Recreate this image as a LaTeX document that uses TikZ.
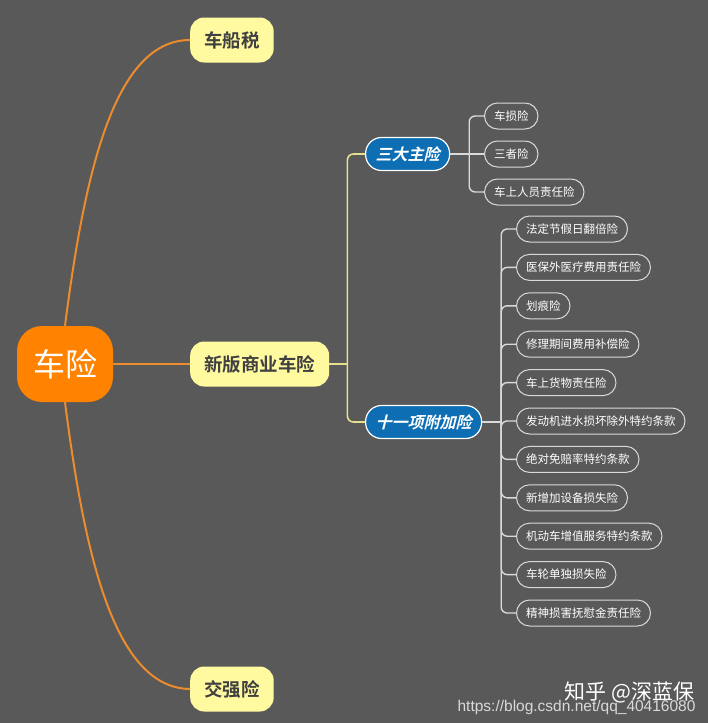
\documentclass[tikz,border=0pt]{standalone}
\usepackage{fontspec}
\setmainfont{Noto Sans CJK SC}[
  BoldFont={Noto Sans CJK SC Bold},
  ItalicFont={Noto Sans CJK SC},
  ItalicFeatures={FakeSlant=0.25},
  BoldItalicFont={Noto Sans CJK SC Bold},
  BoldItalicFeatures={FakeSlant=0.25}]
\newfontfamily\urlfont{Liberation Sans}
\usetikzlibrary{calc}
\definecolor{bggray}{RGB}{89,89,89}
\definecolor{rootorange}{RGB}{255,130,0}
\definecolor{lineorange}{RGB}{235,140,45}
\definecolor{topicyellow}{RGB}{255,250,160}
\definecolor{topictext}{RGB}{64,64,64}
\definecolor{subblue}{RGB}{14,110,180}
\definecolor{lineyellow}{RGB}{230,224,140}
\definecolor{leafline}{RGB}{217,217,217}

\begin{document}
\begin{tikzpicture}[x=1pt, y=-1pt,
    rootbox/.style={fill=rootorange, text=white, rounded corners=25pt,
      minimum width=96pt, minimum height=76pt, font=\fontsize{32}{32}\selectfont},
    topicbox/.style={fill=topicyellow, text=topictext, rounded corners=14pt,
      minimum height=45pt, inner xsep=14pt, anchor=west,
      font=\fontsize{18.5}{18.5}\selectfont\bfseries},
    subbox/.style={fill=subblue, draw=white, line width=1.2pt, text=white,
      rounded corners=16pt, minimum height=33pt, inner xsep=10pt, anchor=west,
      font=\fontsize{16}{16}\selectfont\bfseries\itshape},
    leafbox/.style={draw=leafline, line width=1pt, text=white, rounded corners=13pt,
      minimum height=26pt, inner xsep=9.5pt, anchor=west,
      font=\fontsize{11.5}{11.5}\selectfont},
    oline/.style={draw=lineorange, line width=2pt},
    yline/.style={draw=lineyellow, line width=1.6pt, rounded corners=6pt},
    lline/.style={draw=leafline, line width=1.4pt, rounded corners=6pt}]
    \fill[bggray] (0,0) rectangle (708,723);

    \node[rootbox] (root) at (65,364) {车险};
    \node[topicbox] (tax) at (190,40) {车船税};
    \node[topicbox] (biz) at (190,364) {新版商业车险};
    \node[topicbox] (jqx) at (190,689) {交强险};

    \draw[oline] (root.north) .. controls (85,170) and (115,40) .. (tax.west);
    \draw[oline] (root.east) -- (biz.west);
    \draw[oline] (root.south) .. controls (85,558) and (115,688) .. (jqx.west);

    \node[subbox] (main) at (365,154) {三大主险};
    \node[subbox] (addon) at (365,422) {十一项附加险};
    \draw[yline] (biz.east) -- ++(18,0) coordinate (ybus);
    \draw[yline] (ybus) |- (main.west);
    \draw[yline] (ybus) |- (addon.west);

    \node[leafbox] (m1) at (484,116) {车损险};
    \node[leafbox] (m2) at (484,154) {三者险};
    \node[leafbox] (m3) at (484,192) {车上人员责任险};
    \draw[lline] (main.east) -- ++(19,0) coordinate (mbus);
    \draw[lline] (mbus) |- (m1.west);
    \draw[lline] (mbus) -- (m2.west);
    \draw[lline] (mbus) |- (m3.west);

    \node[leafbox] (a1) at (516,229) {法定节假日翻倍险};
    \node[leafbox] (a2) at (516,267.4) {医保外医疗费用责任险};
    \node[leafbox] (a3) at (516,305.8) {划痕险};
    \node[leafbox] (a4) at (516,344.2) {修理期间费用补偿险};
    \node[leafbox] (a5) at (516,382.6) {车上货物责任险};
    \node[leafbox] (a6) at (516,421) {发动机进水损坏除外特约条款};
    \node[leafbox] (a7) at (516,459.4) {绝对免赔率特约条款};
    \node[leafbox] (a8) at (516,497.8) {新增加设备损失险};
    \node[leafbox] (a9) at (516,536.2) {机动车增值服务特约条款};
    \node[leafbox] (a10) at (516,574.6) {车轮单独损失险};
    \node[leafbox] (a11) at (516,613) {精神损害抚慰金责任险};
    \draw[lline] (addon.east) -- ++(19,0) coordinate (abus);
    \draw[lline] (abus) |- (a1.west);
    \draw[lline] (abus) |- (a2.west);
    \draw[lline] (abus) |- (a3.west);
    \draw[lline] (abus) |- (a4.west);
    \draw[lline] (abus) |- (a5.west);
    \draw[lline] (abus) |- (a6.west);
    \draw[lline] (abus) |- (a7.west);
    \draw[lline] (abus) |- (a8.west);
    \draw[lline] (abus) |- (a9.west);
    \draw[lline] (abus) |- (a10.west);
    \draw[lline] (abus) |- (a11.west);

    \node[anchor=east, text=leafline, font=\fontsize{15.5}{15.5}\selectfont\urlfont] (url) at (699,707) {https://blog.csdn.net/qq\_40416080};
    \node[anchor=east, text=white, font=\fontsize{21}{21}\selectfont] (zhihu) at (698,692) {知乎 @深蓝保};
\end{tikzpicture}
\end{document}
